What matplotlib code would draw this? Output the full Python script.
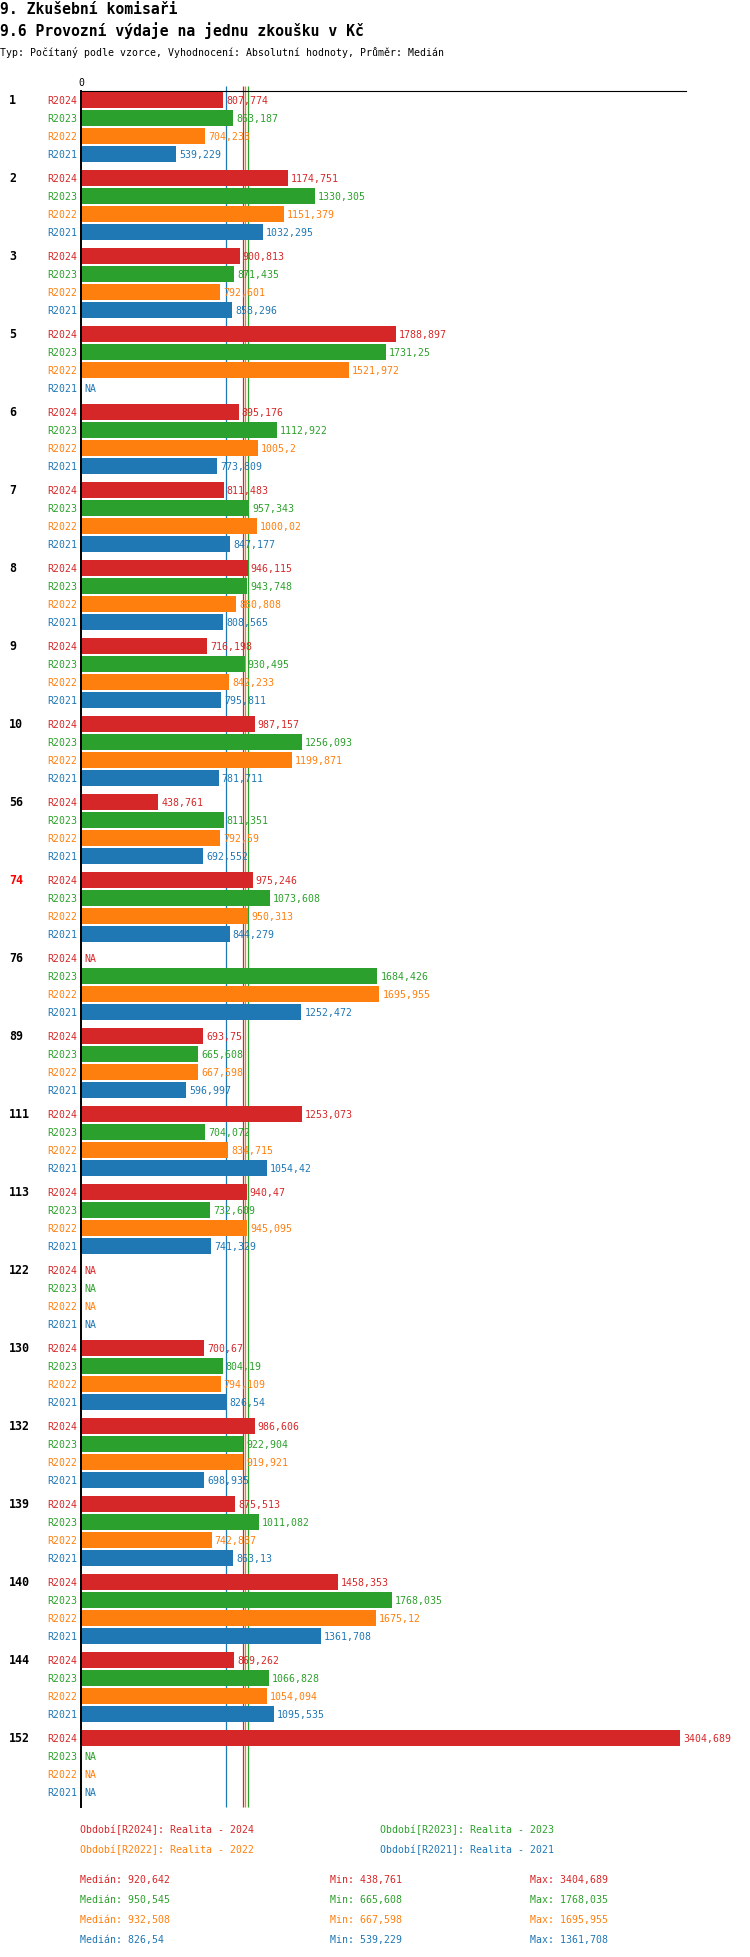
import matplotlib
matplotlib.use('Agg')
import matplotlib.pyplot as plt
import numpy as np

plt.rcParams['font.family'] = ['DejaVu Sans Mono']

# data
groups = ['1', '2', '3', '5', '6', '7', '8', '9', '10', '56', '74', '76', '89',
          '111', '113', '122', '130', '132', '139', '140', '144', '152']
series = ['R2024', 'R2023', 'R2022', 'R2021']
colors = ['#d62728', '#2ca02c', '#ff7f0e', '#1f77b4']

r2024 = [807.774, 1174.751, 900.813, 1788.897, 895.176, 811.483, 946.115, 716.198,
         987.157, 438.761, 975.246, None, 693.75, 1253.073, 940.47, None,
         700.67, 986.606, 875.513, 1458.353, 869.262, 3404.689]
r2023 = [863.187, 1330.305, 871.435, 1731.25, 1112.922, 957.343, 943.748, 930.495,
         1256.093, 811.351, 1073.608, 1684.426, 665.608, 704.072, 732.609, None,
         804.19, 922.904, 1011.082, 1768.035, 1066.828, None]
r2022 = [704.233, 1151.379, 792.601, 1521.972, 1005.2, 1000.02, 880.808, 842.233,
         1199.871, 792.59, 950.313, 1695.955, 667.598, 834.715, 945.095, None,
         794.109, 919.921, 742.887, 1675.12, 1054.094, None]
r2021 = [539.229, 1032.295, 858.296, None, 773.809, 847.177, 808.565, 795.811,
         781.711, 692.552, 844.279, 1252.472, 596.997, 1054.42, 741.329, None,
         826.54, 698.935, 863.13, 1361.708, 1095.535, None]
values = [r2024, r2023, r2022, r2021]

medians = [920.642, 950.545, 932.508, 826.54]
mins = [438.761, 665.608, 667.598, 539.229]
maxs = [3404.689, 1768.035, 1695.955, 1361.708]
legend_names = ['Realita - 2024', 'Realita - 2023', 'Realita - 2022', 'Realita - 2021']


def fmt(v):
    s = f"{v:.3f}".rstrip('0').rstrip('.')
    return s.replace('.', ',')


W, H = 750, 1958
fig = plt.figure(figsize=(W / 100, H / 100), dpi=100)


def px(x, y):
    return x / W, 1 - y / H


# axes placed in pixels
ax_l, ax_r, ax_t, ax_b = 81, 686, 92, 1808
ax = fig.add_axes([ax_l / W, 1 - ax_b / H, (ax_r - ax_l) / W, (ax_b - ax_t) / H])
ax.set_xlim(0, (ax_r - ax_l) / 0.176)
ax.set_ylim(ax_b - ax_t, 0)

group_pitch = 78
row_pitch = 17.9
bar_h = 15.7

for s in range(4):
    for g in range(len(groups)):
        y = 9 + g * group_pitch + s * row_pitch
        v = values[s][g]
        if v is None:
            ax.annotate('NA', (0, y), xytext=(3, 0), textcoords='offset pixels',
                        va='center', ha='left', fontsize=7.1, color=colors[s])
        else:
            ax.barh(y, v, height=bar_h, color=colors[s], zorder=3)
            ax.annotate(fmt(v), (v, y), xytext=(3, 0), textcoords='offset pixels',
                        va='center', ha='left', fontsize=7.1, color=colors[s], zorder=4)
        fig.text(*px(77, ax_t + y), series[s], ha='right', va='center',
                 fontsize=7.1, color=colors[s])

for g, name in enumerate(groups):
    y = ax_t + 9 + g * group_pitch
    fig.text(*px(9, y), name, ha='left', va='center', fontsize=8.4,
             fontweight='bold', color='red' if name == '74' else 'black')

# median lines
for s in range(4):
    ax.vlines(medians[s], -5, ax_b - ax_t, color=colors[s], linewidth=0.9,
              zorder=2, clip_on=False)

for side in ['right', 'bottom']:
    ax.spines[side].set_visible(False)
ax.spines['left'].set_linewidth(1.4)
ax.spines['top'].set_linewidth(0.8)
ax.spines['left'].set_zorder(5)
ax.xaxis.tick_top()
ax.set_xticks([0])
ax.set_xticklabels(['0'])
ax.set_yticks([])
ax.tick_params(axis='x', length=0, pad=3, labelsize=7.1)

# titles
fig.text(*px(0, 14), '9. Zkušební komisaři', ha='left', va='baseline',
         fontsize=10.6, fontweight='bold')
fig.text(*px(0, 36), '9.6 Provozní výdaje na jednu zkoušku v Kč', ha='left',
         va='baseline', fontsize=10.6, fontweight='bold')
fig.text(*px(0, 56), 'Typ: Počítaný podle vzorce, Vyhodnocení: Absolutní hodnoty, Průměr: Medián',
         ha='left', va='baseline', fontsize=7.1)

# legend
leg_pos = [(80, 1830), (380, 1830), (80, 1850), (380, 1850)]
for s in range(4):
    fig.text(*px(*leg_pos[s]), f'Období[{series[s]}]: {legend_names[s]}',
             ha='left', va='center', fontsize=7.1, color=colors[s])

# stats
for s in range(4):
    y = 1880 + s * 20
    fig.text(*px(80, y), f'Medián: {fmt(medians[s])}', ha='left', va='center',
             fontsize=7.1, color=colors[s])
    fig.text(*px(330, y), f'Min: {fmt(mins[s])}', ha='left', va='center',
             fontsize=7.1, color=colors[s])
    fig.text(*px(530, y), f'Max: {fmt(maxs[s])}', ha='left', va='center',
             fontsize=7.1, color=colors[s])

fig.savefig('out.png', dpi=100)
